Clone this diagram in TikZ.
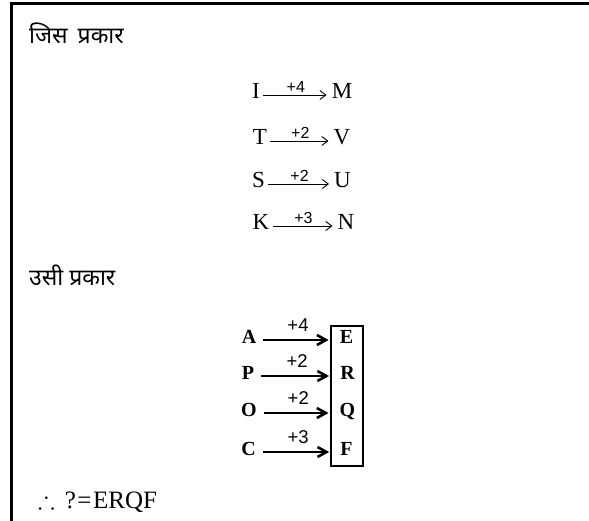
\documentclass[tikz,border=0pt]{standalone}
\usepackage{amssymb}
\usepackage{fontspec}
\setmainfont{Liberation Serif}
\newfontfamily\hindi[Script=Devanagari]{Noto Sans}
\newfontfamily\labfont{Liberation Sans}
\usetikzlibrary{arrows.meta,fit}
\begin{document}
\begin{tikzpicture}[x=1pt,y=-1pt,
  hin/.style={font=\hindi\fontsize{23}{26}\selectfont, anchor=west, inner sep=0},
  la/.style={font=\fontsize{23}{25}\selectfont, inner sep=0, text height=0.66em, text depth=0pt},
  lb/.style={font=\bfseries\fontsize{20}{22}\selectfont, inner sep=0, text height=0.66em, text depth=0pt},
  thinarr/.style={line width=0.9pt, -{Straight Barb[length=6pt,width=9pt]}, shorten <=3pt, shorten >=5pt},
  thickarr/.style={line width=2.6pt, -{Straight Barb[length=9pt,width=10pt,line width=2.6pt]}, shorten <=7pt, shorten >=11pt},
  labA/.style={font=\labfont\fontsize{16}{18}\selectfont, inner sep=0, midway, above=2pt},
  labB/.style={font=\labfont\fontsize{18.5}{20}\selectfont, inner sep=0, midway, above=7pt},
  framebox/.style={draw, line width=2pt, inner sep=0}
]
\useasboundingbox (0,0) rectangle (589,521);
% outer frame (top and left)
\draw[line width=2.6pt] (11.5,521) -- (11.5,3.5) -- (589,3.5);

% headings
\node[hin] (h1) at (29,33) {जिस\hspace{4pt} प्रकार};
\node[hin] (h2) at (29,275) {उसी प्रकार};

% first block
\node[la] (I) at (256,95) {I};
\node[la] (M) at (342,95) {M};
\node[la] (T) at (260,141) {T};
\node[la] (V) at (342,141) {V};
\node[la] (S) at (258.5,184) {S};
\node[la] (U) at (342.5,184) {U};
\node[la] (K) at (261,226) {K};
\node[la] (N) at (346,226) {N};
\draw[thinarr] (I) -- node[labA] {+4} (M);
\draw[thinarr] (T) -- node[labA] {+2} (V);
\draw[thinarr] (S) -- node[labA] {+2} (U);
\draw[thinarr] (K) -- node[labA] {+3} (N);

% second block
\node[lb] (A) at (249,340) {A};
\node[lb] (P) at (248,376) {P};
\node[lb] (O) at (249,413) {O};
\node[lb] (C) at (248.5,452) {C};
\node[lb] (E) at (346.5,340) {E};
\node[lb] (R) at (347.5,376) {R};
\node[lb] (Q) at (347.5,413) {Q};
\node[lb] (F) at (346.5,452) {F};
\node[framebox, fit=(E)(F), minimum width=32pt, minimum height=140pt] (box) {};
\draw[thickarr] (A) -- node[labB] {+4} (E);
\draw[thickarr] (P) -- node[labB] {+2} (R);
\draw[thickarr] (O) -- node[labB] {+2} (Q);
\draw[thickarr] (C) -- node[labB] {+3} (F);

% conclusion
\node[anchor=base west, inner sep=0, font=\fontsize{25}{27}\selectfont] (ans) at (38,508) {$\therefore$\hspace{10pt}?\hspace{1.5pt}=\hspace{1.5pt}ERQF};
\end{tikzpicture}
\end{document}
